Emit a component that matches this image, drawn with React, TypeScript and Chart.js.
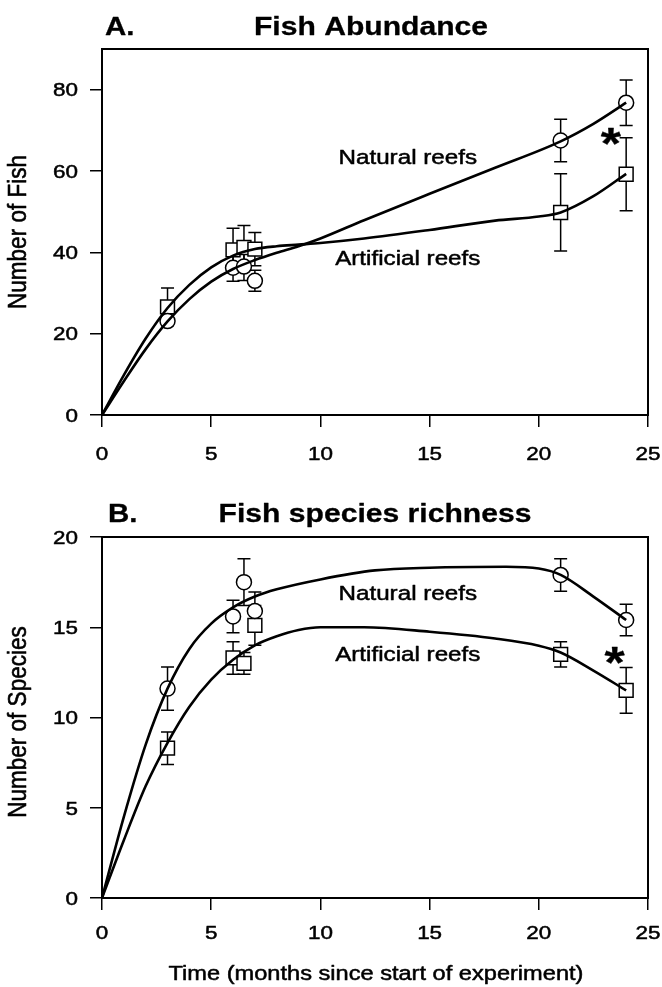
import React, { useEffect, useRef } from 'react';
import { Chart, registerables } from 'chart.js';

Chart.register(...registerables);

const FONT = '"Liberation Sans", Arial, Helvetica, sans-serif';
const SX = 1.18; // the scanned figure is stretched horizontally

// ---------- shared ----------
const xTickValues = [0, 5, 10, 15, 20, 25];
const sampleMonths = [3, 6, 6.5, 7, 21, 24];

// ---------- Panel A: Fish Abundance ----------
const abundanceTicks = [0, 20, 40, 60, 80];
const abundanceNatural = [23.1, 36.2, 36.5, 33.0, 67.5, 76.8];
const abundanceNaturalErr = [0, 3.3, 3.4, 2.6, 5.2, 5.6];
const abundanceArtificial = [26.6, 40.6, 41.2, 40.8, 49.8, 59.2];
const abundanceArtificialErr = [4.6, 5.3, 5.4, 4.1, 9.5, 9.0];
const abundanceNaturalCurveX = [0, 1, 2, 3, 4, 5, 6, 7, 8, 9, 10, 12, 15, 18, 21, 22.5, 24];
const abundanceNaturalCurveY = [0, 8.3, 16.2, 23.0, 28.5, 32.8, 35.9, 38.1, 39.9, 41.5, 43.4, 47.9, 54.4, 60.8, 67.3, 71.6, 76.8];
const abundanceArtificialCurveX = [0, 1, 2, 3, 4, 5, 6, 7, 8, 9, 10, 12, 15, 18, 20, 21, 22.5, 24];
const abundanceArtificialCurveY = [0, 9.8, 18.8, 26.3, 32.0, 36.3, 39.2, 40.8, 41.5, 41.9, 42.3, 43.4, 45.5, 47.8, 48.8, 49.8, 53.8, 59.3];

// ---------- Panel B: Fish species richness ----------
const richnessTicks = [0, 5, 10, 15, 20];
const richnessNatural = [11.6, 15.6, 17.5, 15.9, 17.9, 15.4];
const richnessNaturalErr = [1.2, 0.9, 1.3, 1.05, 0.9, 0.87];
const richnessArtificial = [8.3, 13.3, 13.0, 15.1, 13.5, 11.5];
const richnessArtificialErr = [0.9, 0.9, 0.6, 1.1, 0.7, 1.27];
const richnessNaturalCurveX = [0, 1, 2, 3, 4, 5, 6, 7, 8, 10, 12.5, 15, 18.5, 20, 21, 22.5, 24];
const richnessNaturalCurveY = [0, 4.5, 8.5, 11.6, 13.8, 15.2, 16.1, 16.7, 17.1, 17.65, 18.15, 18.3, 18.35, 18.25, 17.9, 16.7, 15.4];
const richnessArtificialCurveX = [0, 1, 2, 3, 4, 5, 6, 7, 8, 9, 10, 12, 15, 18, 20, 21, 22.5, 24];
const richnessArtificialCurveY = [0, 3.2, 6.2, 8.6, 10.6, 12.1, 13.2, 14.0, 14.5, 14.85, 15.0, 15.0, 14.75, 14.38, 13.98, 13.6, 12.6, 11.5];

type PanelCfg = {
  letter: string;
  title: string;
  yTitle: string;
  yMax: number;
  yTicks: number[];
  nat: number[];
  natErr: number[];
  art: number[];
  artErr: number[];
  natCurveX: number[];
  natCurveY: number[];
  artCurveX: number[];
  artCurveY: number[];
  padTop: number;
  xAxisH: number;
  titleBaseline: number;
  letterX: number;
  titleX: number;
  yTitleY: number;
  xLabelY: number;
  natLabel: [number, number];
  artLabel: [number, number];
  star: [number, number];
  xTitle?: { text: string; x: number; baseline: number };
};

function txt(
  ctx: CanvasRenderingContext2D,
  s: string,
  x: number,
  y: number,
  font: string,
  align: CanvasTextAlign,
  rot = 0,
  baseline: CanvasTextBaseline = 'alphabetic',
  heavy = 0.5
) {
  ctx.save();
  ctx.translate(x, y);
  if (rot) {
    ctx.rotate(rot);
    ctx.scale(1, SX);
  } else {
    ctx.scale(SX, 1);
  }
  ctx.font = font;
  ctx.textAlign = align;
  ctx.textBaseline = baseline;
  ctx.fillStyle = '#000';
  ctx.fillText(s, 0, 0);
  if (heavy > 0) {
    ctx.strokeStyle = '#000';
    ctx.lineWidth = heavy;
    ctx.lineJoin = 'round';
    ctx.strokeText(s, 0, 0);
  }
  ctx.restore();
}

function buildChart(canvas: HTMLCanvasElement, p: PanelCfg) {
  const pts = (ys: number[]) => sampleMonths.map((x, i) => ({ x, y: ys[i] }));
  const curve = (xs: number[], ys: number[]) => xs.map((x, i) => ({ x, y: ys[i] }));

  const errorPlugin = {
    id: 'errorBars',
    beforeDatasetsDraw(chart: any) {
      const { ctx, scales } = chart;
      const xs = scales.x;
      const ys = scales.y;
      ctx.save();
      ctx.strokeStyle = '#000';
      ctx.lineWidth = 1.5;
      const series: [number[], number[]][] = [
        [p.nat, p.natErr],
        [p.art, p.artErr],
      ];
      for (const [vals, errs] of series) {
        vals.forEach((v, i) => {
          const e = errs[i];
          if (!e) return;
          const px = xs.getPixelForValue(sampleMonths[i]);
          const yt = ys.getPixelForValue(v + e);
          const yb = ys.getPixelForValue(v - e);
          ctx.beginPath();
          ctx.moveTo(px, yt);
          ctx.lineTo(px, yb);
          ctx.moveTo(px - 6.5, yt);
          ctx.lineTo(px + 6.5, yt);
          ctx.moveTo(px - 6.5, yb);
          ctx.lineTo(px + 6.5, yb);
          ctx.stroke();
        });
      }
      ctx.restore();
    },
  };

  const textPlugin = {
    id: 'texts',
    afterDraw(chart: any) {
      const { ctx, chartArea, scales } = chart;
      const xs = scales.x;
      const ys = scales.y;
      ctx.save();
      ctx.strokeStyle = '#000';
      ctx.lineWidth = 2;
      ctx.strokeRect(chartArea.left, chartArea.top, chartArea.right - chartArea.left, chartArea.bottom - chartArea.top);
      ctx.restore();

      const tickFont = `19px ${FONT}`;
      p.yTicks.forEach((v) => {
        txt(ctx, String(v), 78, ys.getPixelForValue(v) + 6.8, tickFont, 'right');
      });
      xTickValues.forEach((v) => {
        txt(ctx, String(v), xs.getPixelForValue(v), p.xLabelY + 6.8, tickFont, 'center');
      });

      txt(ctx, p.letter, p.letterX, p.titleBaseline, `bold 25px ${FONT}`, 'left', 0, 'alphabetic', 0.3);
      txt(ctx, p.title, p.titleX, p.titleBaseline, `bold 25.5px ${FONT}`, 'center', 0, 'alphabetic', 0.3);
      txt(ctx, p.yTitle, 19, p.yTitleY, `22.5px ${FONT}`, 'center', -Math.PI / 2, 'middle');

      const lblFont = `20.5px ${FONT}`;
      txt(ctx, 'Natural reefs', xs.getPixelForValue(p.natLabel[0]), ys.getPixelForValue(p.natLabel[1]) + 7.4, lblFont, 'center');
      txt(ctx, 'Artificial reefs', xs.getPixelForValue(p.artLabel[0]), ys.getPixelForValue(p.artLabel[1]) + 7.4, lblFont, 'center');
      txt(ctx, '*', xs.getPixelForValue(p.star[0]), ys.getPixelForValue(p.star[1]) + 25, `bold 44px ${FONT}`, 'center', 0, 'alphabetic', 0.3);

      if (p.xTitle) {
        txt(ctx, p.xTitle.text, p.xTitle.x, p.xTitle.baseline, `20px ${FONT}`, 'center');
      }
    },
  };

  const gridOpts = {
    drawOnChartArea: false,
    drawTicks: true,
    tickLength: 12,
    color: '#000',
    lineWidth: 1.5,
  };

  return new Chart(canvas, {
    type: 'line',
    data: {
      datasets: [
        {
          data: curve(p.natCurveX, p.natCurveY),
          borderColor: '#000',
          borderWidth: 2.6,
          pointRadius: 0,
          cubicInterpolationMode: 'monotone',
          fill: false,
          order: 0,
        },
        {
          data: curve(p.artCurveX, p.artCurveY),
          borderColor: '#000',
          borderWidth: 2.6,
          pointRadius: 0,
          cubicInterpolationMode: 'monotone',
          fill: false,
          order: 0,
        },
        {
          data: pts(p.nat),
          showLine: false,
          pointStyle: 'circle',
          pointRadius: 7.5,
          pointBackgroundColor: '#fff',
          pointBorderColor: '#000',
          pointBorderWidth: 1.5,
          order: 1,
        },
        {
          data: pts(p.art),
          showLine: false,
          pointStyle: 'rect',
          pointRadius: 9.8,
          pointBackgroundColor: '#fff',
          pointBorderColor: '#000',
          pointBorderWidth: 1.5,
          order: 1,
        },
      ] as any,
    },
    options: {
      responsive: false,
      maintainAspectRatio: false,
      animation: false,
      events: [],
      layout: { padding: { top: p.padTop, right: 14, left: 0, bottom: 0 } },
      plugins: {
        legend: { display: false },
        tooltip: { enabled: false },
        title: { display: false },
      },
      scales: {
        x: {
          type: 'linear',
          min: 0,
          max: 25,
          afterBuildTicks: (s: any) => {
            s.ticks = xTickValues.map((v) => ({ value: v }));
          },
          afterFit: (s: any) => {
            s.height = p.xAxisH;
          },
          grid: gridOpts,
          border: { display: true, color: '#000', width: 2 },
          ticks: { display: false },
        },
        y: {
          type: 'linear',
          min: 0,
          max: p.yMax,
          afterBuildTicks: (s: any) => {
            s.ticks = p.yTicks.map((v) => ({ value: v }));
          },
          afterFit: (s: any) => {
            s.width = 102;
          },
          grid: gridOpts,
          border: { display: true, color: '#000', width: 2 },
          ticks: { display: false },
        },
      },
    } as any,
    plugins: [errorPlugin, textPlugin],
  });
}

const panelA: PanelCfg = {
  letter: 'A.',
  title: 'Fish Abundance',
  yTitle: 'Number of Fish',
  yMax: 90,
  yTicks: abundanceTicks,
  nat: abundanceNatural,
  natErr: abundanceNaturalErr,
  art: abundanceArtificial,
  artErr: abundanceArtificialErr,
  natCurveX: abundanceNaturalCurveX,
  natCurveY: abundanceNaturalCurveY,
  artCurveX: abundanceArtificialCurveX,
  artCurveY: abundanceArtificialCurveY,
  padTop: 49,
  xAxisH: 65,
  titleBaseline: 35,
  letterX: 105,
  titleX: 371,
  yTitleY: 232,
  xLabelY: 453,
  natLabel: [14.0, 63.6],
  artLabel: [14.0, 38.8],
  star: [23.3, 69.2],
};

const panelB: PanelCfg = {
  letter: 'B.',
  title: 'Fish species richness',
  yTitle: 'Number of Species',
  yMax: 20,
  yTicks: richnessTicks,
  nat: richnessNatural,
  natErr: richnessNaturalErr,
  art: richnessArtificial,
  artErr: richnessArtificialErr,
  natCurveX: richnessNaturalCurveX,
  natCurveY: richnessNaturalCurveY,
  artCurveX: richnessArtificialCurveX,
  artCurveY: richnessArtificialCurveY,
  padTop: 57,
  xAxisH: 89,
  titleBaseline: 42,
  letterX: 108,
  titleX: 375,
  yTitleY: 242,
  xLabelY: 452,
  natLabel: [14.0, 16.9],
  artLabel: [14.0, 13.55],
  star: [23.47, 13.55],
  xTitle: { text: 'Time (months since start of experiment)', x: 376, baseline: 500 },
};

export default function App() {
  const refA = useRef<HTMLCanvasElement>(null);
  const refB = useRef<HTMLCanvasElement>(null);

  useEffect(() => {
    const a = refA.current ? buildChart(refA.current, panelA) : null;
    const b = refB.current ? buildChart(refB.current, panelB) : null;
    return () => {
      a?.destroy();
      b?.destroy();
    };
  }, []);

  return (
    <div style={{ position: 'absolute', left: 0, top: 0, width: 662, height: 987, background: '#fff', overflow: 'hidden' }}>
      <canvas ref={refA} width={662} height={480} style={{ position: 'absolute', left: 0, top: 0, width: 662, height: 480 }} />
      <canvas ref={refB} width={662} height={507} style={{ position: 'absolute', left: 0, top: 480, width: 662, height: 507 }} />
    </div>
  );
}
